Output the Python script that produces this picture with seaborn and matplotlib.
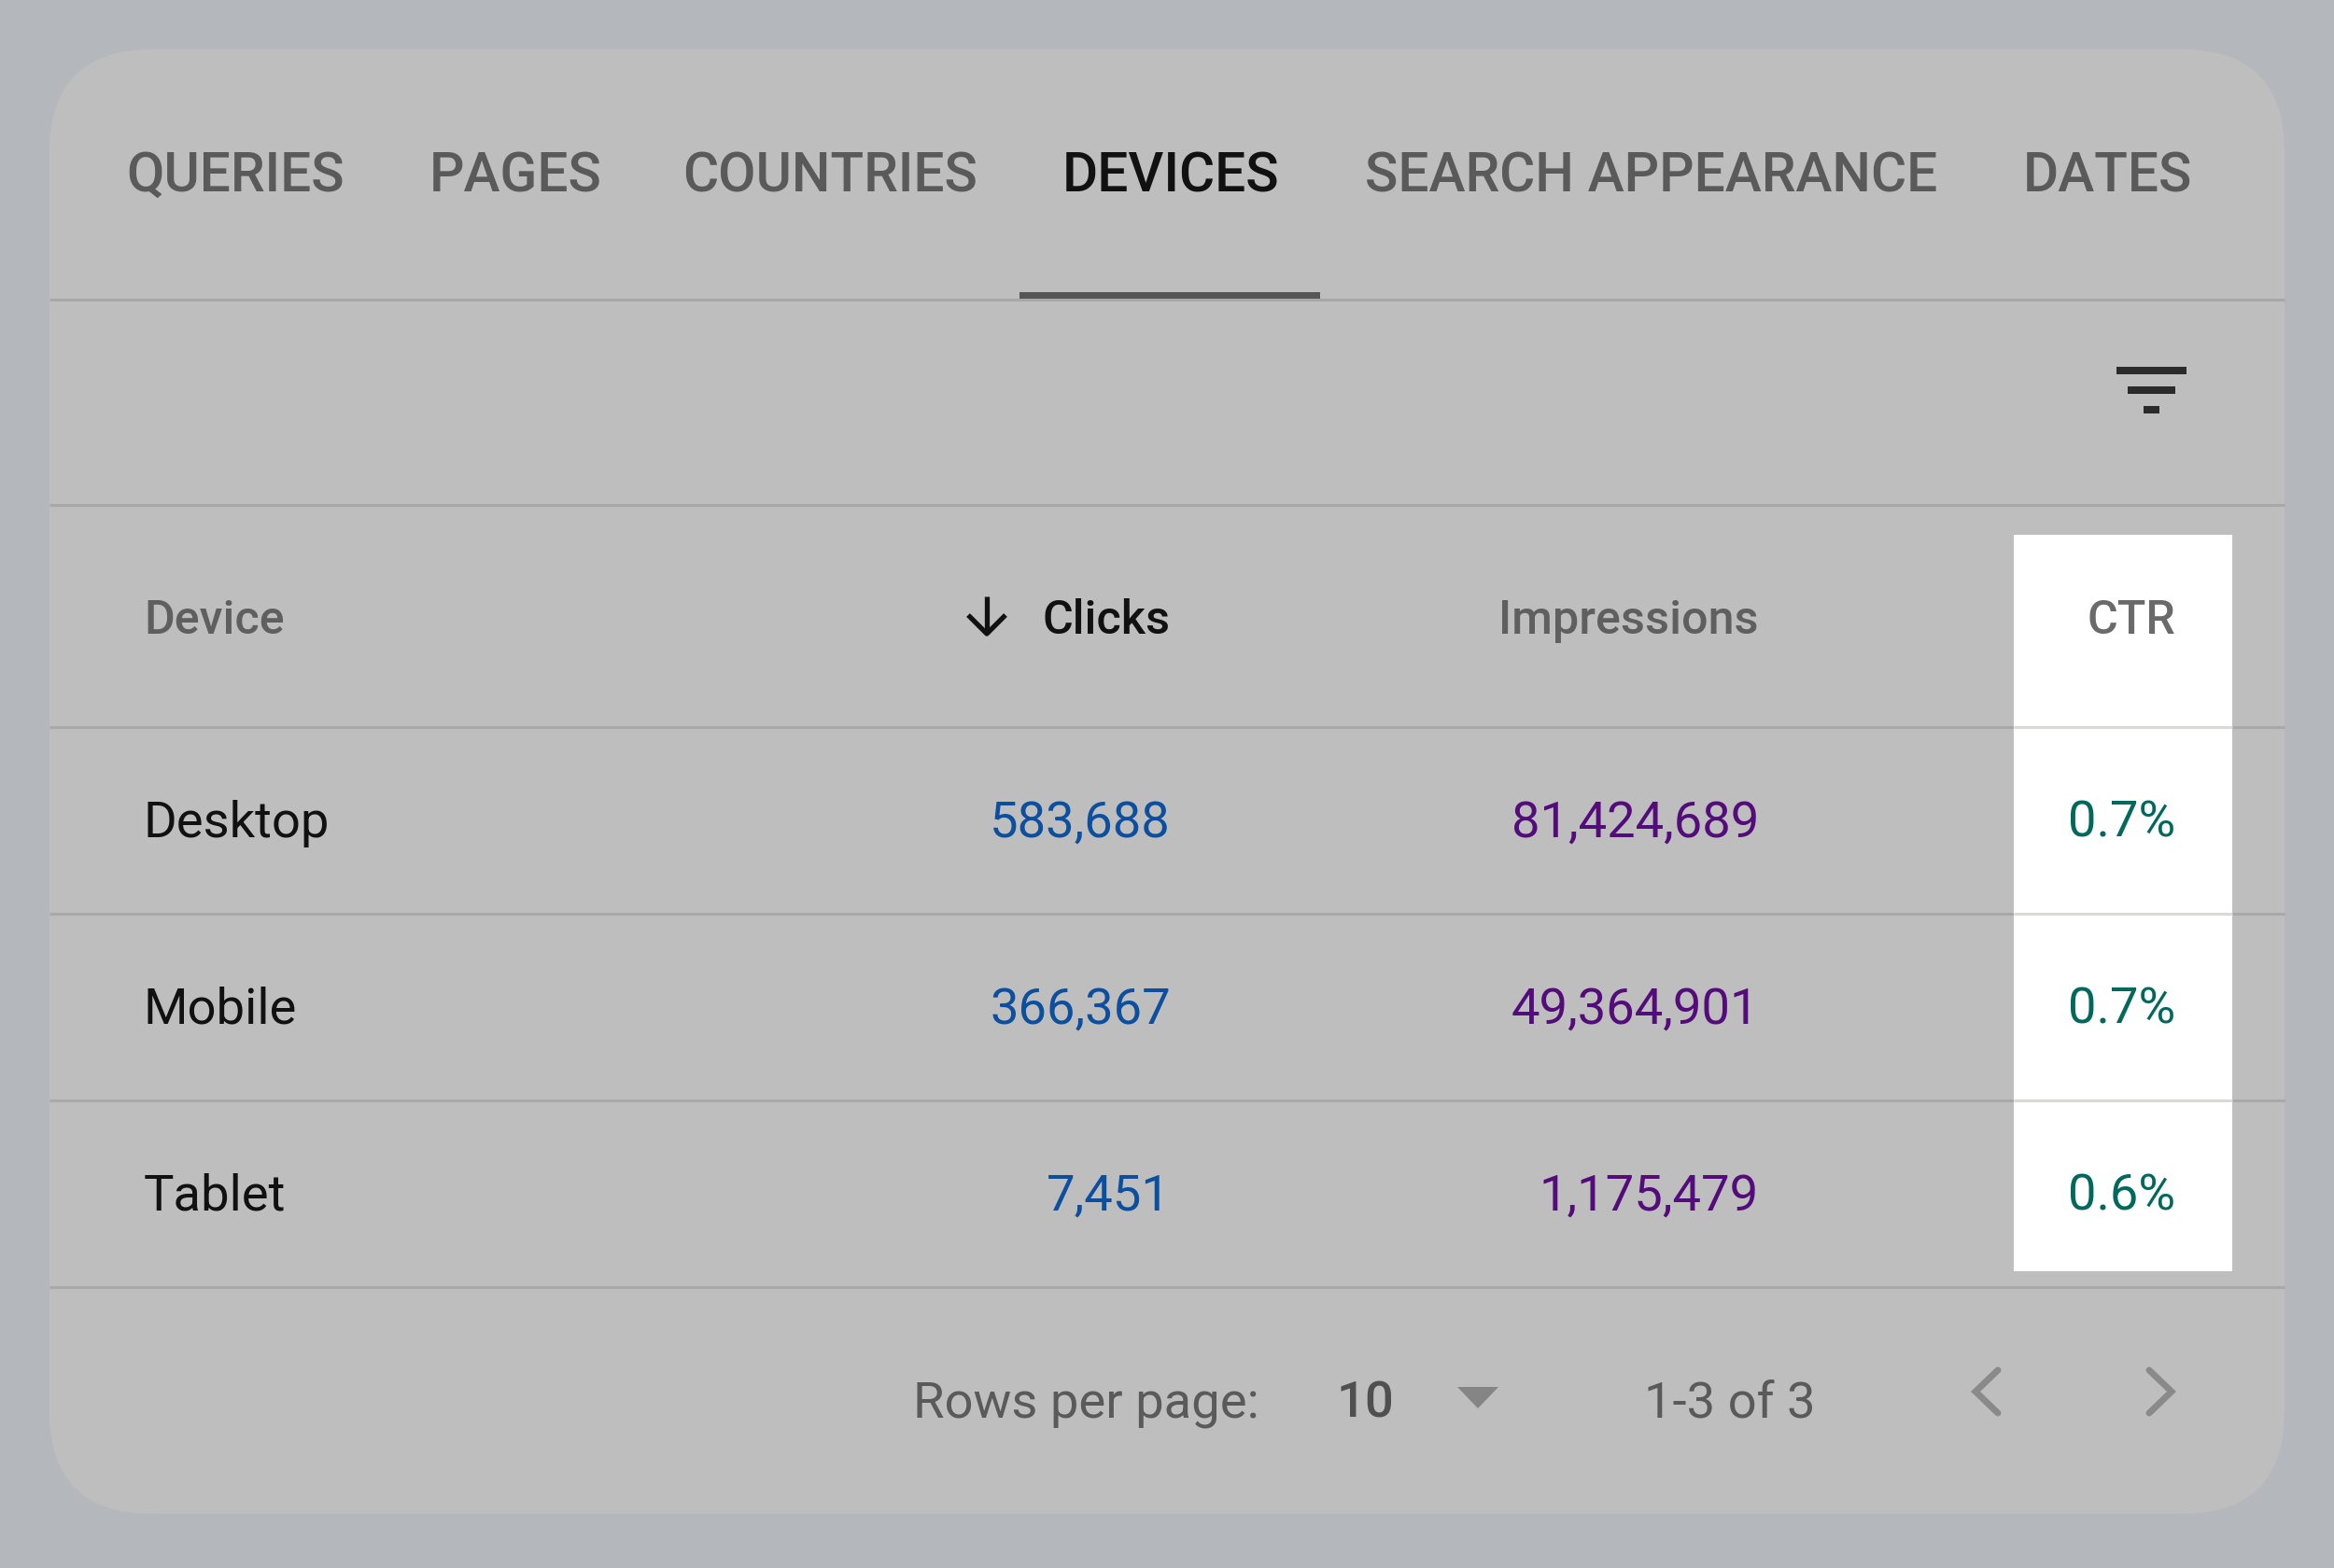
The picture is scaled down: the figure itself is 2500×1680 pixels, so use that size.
"""
Search Console devices table, redrawn with the CTR column highlighted
"""
import matplotlib
matplotlib.use('Agg')
import matplotlib.pyplot as plt
from matplotlib.patches import FancyBboxPatch, Rectangle, Polygon
import seaborn as sns

# data
tabs = ['QUERIES', 'PAGES', 'COUNTRIES', 'DEVICES', 'SEARCH APPEARANCE', 'DATES']
active_tab = 'DEVICES'
devices = ['Desktop', 'Mobile', 'Tablet']
clicks = [583688, 366367, 7451]
impressions = [81424689, 49364901, 1175479]
ctr = [0.7, 0.7, 0.6]
headers = ['Device', 'Clicks', 'Impressions', 'CTR']
rows_per_page = 10
page_text = '1-3 of 3'

# layout, in pixels of the 2500x1681 picture
tab_x = [135, 460, 731, 1138, 1462, 2167]
divider_y = [322, 542, 780, 980, 1180, 1380]
row_baseline = [897, 1097, 1297]
device_x, clicks_x, impressions_x, ctr_x = 154, 1254, 1884, 2330

BG = '#b4b8bd'
CARD = '#bebebe'
LINE = '#a8a8a8'
TAB = '#5a5a5a'
BLUE = '#0b4f9e'
PURPLE = '#530c7a'
GREEN = '#00695c'

sns.set_theme(style='white')
plt.rcParams['font.family'] = ['Roboto', 'DejaVu Sans']

fig = plt.figure(figsize=(25, 16.81), dpi=100, facecolor=BG)
ax = fig.add_axes([0, 0, 1, 1])
ax.set_xlim(0, 2500)
ax.set_ylim(1681, 0)
ax.axis('off')

# card
ax.add_patch(FancyBboxPatch((53, 54), 2394, 1569, boxstyle='round,pad=0,rounding_size=110',
                            facecolor=CARD, edgecolor='none', zorder=1))

# dividers, plus the highlighted column on top
ax.hlines(divider_y, 53, 2447, color=LINE, linewidth=2.2, zorder=2)
ax.add_patch(Rectangle((2157, 574), 234, 789, facecolor='white', edgecolor='none', zorder=3))
ax.hlines(divider_y[2:5], 2157, 2391, color='#d8dad8', linewidth=2.2, zorder=4)

# tabs
for name, x in zip(tabs, tab_x):
    is_active = name == active_tab
    ax.text(x, 205, name, fontsize=42.2, fontweight='medium', va='baseline', ha='left',
            color='#111111' if is_active else TAB, zorder=5)
ax.add_patch(Rectangle((1092, 314), 322, 7, facecolor='#565656', edgecolor='none', zorder=5))

# filter icon
for x0, x1, y0 in [(2267, 2342, 394), (2279, 2330, 415), (2296, 2313, 436)]:
    ax.add_patch(Rectangle((x0, y0), x1 - x0, 8, facecolor='#2b2b2b', edgecolor='none', zorder=5))

# header row
head_font = dict(fontsize=36.2, fontweight='medium', va='baseline', zorder=5)
ax.text(device_x, 679.5, headers[0], ha='left', color='#5f5f5f', **head_font)
ax.text(clicks_x, 679.5, headers[1], ha='right', color='#111111', **head_font)
ax.text(impressions_x, 679.5, headers[2], ha='right', color='#5f5f5f', **head_font)
ax.text(ctr_x, 679.5, headers[3], ha='right', color='#6a6a6a', **head_font)

# sort arrow
arrow = dict(color='#111111', linewidth=3.8, solid_capstyle='butt', zorder=5)
ax.plot([1057, 1057], [640, 680], **arrow)
ax.plot([1037, 1057, 1077], [660, 680, 660], **arrow)

# body rows
body_font = dict(fontsize=39.2, va='baseline', zorder=5)
for i, device in enumerate(devices):
    y = row_baseline[i]
    ax.text(device_x, y, device, ha='left', color='#111111', **body_font)
    ax.text(clicks_x, y, f'{clicks[i]:,}', ha='right', color=BLUE, **body_font)
    ax.text(impressions_x, y, f'{impressions[i]:,}', ha='right', color=PURPLE, **body_font)
    ax.text(ctr_x, y, f'{ctr[i]}%', ha='right', color=GREEN, **body_font)

# pagination
ax.text(978, 1519, 'Rows per page:', ha='left', va='baseline', fontsize=39.2, color=TAB, zorder=5)
ax.text(1432, 1519, str(rows_per_page), ha='left', va='baseline', fontsize=39.2,
        fontweight='medium', color='#505050', zorder=5)
ax.text(1761, 1519, page_text, ha='left', va='baseline', fontsize=39.2, color=TAB, zorder=5)
ax.add_patch(Polygon([(1561, 1487), (1605, 1487), (1583, 1510)], closed=True,
                     facecolor='#858585', edgecolor='none', zorder=5))
chevron = dict(color='#8a8a8a', linewidth=5, solid_joinstyle='miter', zorder=5)
ax.plot([2140, 2116, 2140], [1469, 1492, 1515], **chevron)
ax.plot([2302, 2326, 2302], [1469, 1492, 1515], **chevron)

fig.savefig('out.png', dpi=100, facecolor=BG)
